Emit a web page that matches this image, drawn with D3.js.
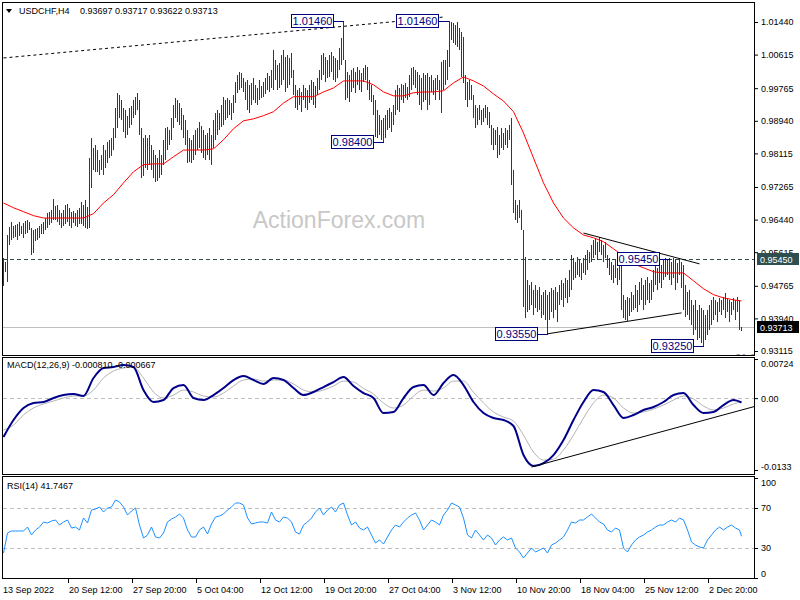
<!DOCTYPE html>
<html><head><meta charset="utf-8">
<script src="https://cdn.jsdelivr.net/npm/d3@7"></script>
<style>
body{margin:0;background:#fff}
svg{display:block}
text{font-family:"Liberation Sans",Arial,sans-serif}
</style>
</head><body>
<svg id="c" width="800" height="600"></svg>
<script>
// ---------------- DATA ----------------
const TITLE_SYMBOL = "USDCHF,H4";
const TITLE_PRICES = "0.93697 0.93717 0.93622 0.93713";
const MACD_TITLE = "MACD(12,26,9) -0.000810 -0.000667";
const RSI_TITLE = "RSI(14) 41.7467";
const WATERMARK = "ActionForex.com";

// bar highs / lows in 1/10000 units (H4 bars from 13 Sep 2022 04:00)
const HIGH = [
9547,9537,9605,9626,9638,9628,9631,9633,9638,9628,
9636,9641,9643,9638,9623,9618,9621,9623,9628,9633,
9638,9648,9661,9664,9669,9697,9679,9681,9669,9661,
9669,9681,9684,9674,9664,9666,9661,9669,9674,9689,
9681,9694,9676,9800,9851,9826,9833,9820,9795,9808,
9833,9820,9841,9846,9851,9876,9927,9965,9960,9947,
9927,9922,9907,9927,9932,9947,9955,9965,9947,9876,
9851,9858,9851,9858,9833,9820,9808,9800,9820,9808,
9846,9876,9879,9871,9901,9934,9952,9947,9939,9927,
9909,9896,9871,9851,9846,9858,9871,9876,9891,9881,
9871,9858,9863,9876,9858,9896,9914,9922,9914,9934,
9955,9947,9952,9947,9939,9960,9993,10010,10018,10015,
10003,9993,9998,9985,9990,10003,9985,9977,9998,9982,
9993,10003,10015,10008,10023,10074,10048,10036,10041,10061,
10074,10056,10061,10053,10066,10023,9985,9972,9977,9967,
9985,9977,9972,9985,9998,9993,9982,10003,10023,10061,
10066,10056,10048,10061,10068,10058,10053,10048,10079,10104,
10146,10048,10018,10010,10023,10028,10018,10030,10023,10015,
10028,10036,10030,9998,9985,9960,9947,9922,9909,9896,
9901,9909,9922,9927,9917,9934,9972,9985,9977,9987,
9985,9990,9980,10010,10028,10030,10023,10018,10010,10003,
10015,10010,10015,10005,10010,9998,10003,10010,9998,10043,
10048,10048,10074,10146,10144,10142,10137,10144,10129,10119,
10106,10010,9993,9998,9985,9960,9934,9927,9934,9922,
9927,9934,9929,9917,9884,9876,9871,9879,9858,9876,
9863,9876,9871,9884,9901,9770,9694,9681,9694,9669,
9618,9550,9492,9479,9487,9466,9479,9466,9474,9454,
9461,9466,9454,9461,9471,9466,9474,9461,9479,9492,
9484,9497,9492,9517,9555,9547,9537,9550,9542,9535,
9547,9555,9568,9562,9580,9593,9598,9588,9600,9593,
9580,9588,9555,9547,9537,9530,9542,9522,9530,9537,
9454,9441,9449,9446,9461,9454,9479,9466,9487,9497,
9479,9492,9499,9484,9492,9517,9530,9522,9537,9530,
9542,9547,9542,9547,9537,9547,9542,9535,9547,9537,
9530,9479,9461,9466,9441,9428,9441,9416,9428,9421,
9416,9403,9416,9428,9441,9449,9441,9436,9446,9441,
9449,9459,9446,9441,9436,9446,9441,9449,9441,9372
];
const LOW = [
9476,9512,9487,9580,9593,9598,9600,9593,9603,9608,
9598,9608,9611,9618,9555,9560,9590,9593,9598,9608,
9608,9618,9623,9631,9636,9643,9643,9638,9631,9623,
9628,9633,9638,9628,9623,9636,9628,9626,9633,9633,
9628,9623,9621,9623,9724,9770,9765,9765,9757,9770,
9757,9775,9788,9800,9805,9820,9851,9876,9901,9896,
9866,9851,9858,9876,9884,9901,9909,9922,9858,9750,
9755,9775,9770,9783,9770,9750,9740,9742,9750,9757,
9783,9795,9820,9833,9846,9876,9901,9891,9884,9871,
9851,9833,9788,9790,9788,9795,9808,9820,9826,9813,
9800,9795,9808,9795,9783,9826,9846,9858,9871,9879,
9884,9896,9901,9909,9896,9914,9939,9965,9972,9977,
9967,9947,9922,9914,9934,9947,9939,9934,9947,9952,
9955,9962,9972,9967,9977,9972,9998,9972,9977,9985,
9998,9967,9977,9985,10003,9960,9927,9922,9934,9917,
9947,9927,9922,9939,9947,9934,9927,9960,9972,9998,
10010,9993,10003,10005,10018,9998,9993,10003,10023,10036,
10048,9947,9952,9942,9967,9977,9965,9985,9972,9967,
9993,9998,9972,9947,9942,9909,9853,9851,9858,9846,
9840,9851,9871,9876,9866,9884,9909,9922,9917,9947,
9939,9952,9947,9955,9972,9985,9977,9960,9934,9922,
9942,9947,9922,9934,9967,9960,9947,9972,9947,9914,
9972,9985,9998,10030,10099,10091,10086,10081,10074,10005,
9990,9947,9929,9947,9947,9901,9876,9884,9896,9884,
9891,9901,9884,9876,9833,9820,9833,9800,9808,9826,
9820,9833,9826,9846,9732,9661,9643,9636,9648,9618,
9423,9395,9411,9416,9428,9403,9421,9411,9416,9395,
9403,9390,9355,9390,9411,9395,9416,9385,9428,9441,
9423,9446,9433,9449,9466,9492,9497,9504,9499,9492,
9509,9504,9517,9535,9537,9547,9555,9542,9562,9555,
9537,9547,9522,9504,9492,9484,9497,9479,9492,9416,
9395,9390,9388,9401,9411,9416,9421,9411,9428,9441,
9416,9428,9441,9433,9441,9461,9479,9466,9484,9471,
9492,9499,9504,9492,9479,9497,9466,9484,9504,9471,
9416,9398,9403,9390,9378,9352,9365,9340,9345,9332,
9325,9340,9352,9365,9378,9390,9403,9385,9411,9403,
9416,9395,9411,9385,9403,9416,9390,9411,9365,9362
];

// moving average and MACD samples, one every 5 bars (last one = last bar)
const SAMPLE_STEP = 5;
const MA = [
9686,9674,9664,9654,9648,9648,9648,9648,9648,9659,
9686,9707,9737,9765,9783,9785,9785,9803,9820,9820,
9820,9823,9846,9874,9894,9899,9907,9917,9939,9955,
9955,9955,9967,9977,9995,9995,9995,9985,9967,9957,
9957,9965,9967,9967,9970,9990,10005,9995,9982,9962,
9944,9917,9863,9800,9737,9686,9648,9623,9605,9598,
9588,9570,9552,9532,9522,9512,9509,9509,9509,9489,
9469,9454,9446,9441,9438
];
const MACD_MAIN = [
-0.0072,-0.00405,-0.00183,-0.00091,-0.00072,0.00002,0.00057,0.00076,0.00039,0.00372,
0.00557,0.00575,0.00612,0.00575,0.0015,-0.00072,-0.00035,0.00187,0.00242,0.00002,
-0.00035,0.00057,0.00187,0.00335,0.00409,0.00335,0.00261,0.00372,0.00335,0.00187,
0.00057,0.00113,0.00205,0.00298,0.0039,0.00224,0.00094,0.00002,-0.00276,-0.00257,
0.00002,0.00205,0.00242,0.00057,0.00279,0.00427,0.00242,-0.00072,-0.00276,-0.00368,
-0.00405,-0.00516,-0.01053,-0.01257,-0.01202,-0.01053,-0.00775,-0.00405,-0.00072,0.0015,
0.00113,-0.00128,-0.00368,-0.00313,-0.0022,-0.00165,-0.00072,0.00057,0.00094,-0.00128,
-0.00276,-0.00257,-0.00128,-0.00035,-0.00081
];
const MACD_SIGNAL = [
-0.0059,-0.00498,-0.00313,-0.00183,-0.00109,-0.00054,0.00002,0.00039,0.00039,0.0015,
0.00372,0.00501,0.00557,0.00575,0.00372,0.00113,0.00002,0.00057,0.0015,0.00113,
0.00039,0.0002,0.00094,0.00224,0.00335,0.00353,0.00316,0.00335,0.00335,0.00261,
0.0015,0.00113,0.0015,0.00224,0.00316,0.00298,0.0018,0.00076,-0.00091,-0.00183,
-0.00128,0.00039,0.0015,0.00131,0.00187,0.00316,0.00316,0.0011,-0.00091,-0.00257,
-0.0035,-0.00424,-0.00683,-0.00997,-0.01146,-0.01128,-0.0096,-0.00683,-0.00368,-0.00091,
0.00057,0.00002,-0.00183,-0.00276,-0.00257,-0.00202,-0.00128,-0.00035,0.00039,-0.00017,
-0.00146,-0.0022,-0.00183,-0.00109,-0.00067
];
// RSI samples, one every 2 bars (last one = last bar)
const RSI_STEP = 2;
const RSI = [
25,45,47,47,47,47,51,43,48,51,
56,55,57,58,53,56,58,50,51,48,
60,55,68,69,71,66,70,71,78,76,
71,63,67,70,53,40,43,51,41,40,
45,56,59,61,64,60,48,41,41,48,
51,44,54,61,62,64,68,71,75,75,
73,60,54,55,56,56,55,66,58,56,
61,60,56,46,44,
53,56,60,66,70,63,68,71,66,73,
75,63,53,56,50,48,51,43,35,38,
34,41,48,53,51,56,60,63,65,58,
48,53,58,56,53,63,68,75,73,71,
60,43,40,48,43,38,43,40,33,38,
41,38,40,30,26,20,25,30,26,28,
30,25,33,35,38,41,48,56,55,58,
58,61,64,60,56,54,48,46,50,48,
30,26,33,38,41,43,46,48,51,53,
53,56,58,56,60,58,48,36,33,31,
30,38,43,48,51,48,51,53,50,48,
41.7467
];

const PRICE_TICKS = [1.01440,1.00615,0.99765,0.98940,0.98115,0.97265,0.96440,0.95615,0.94765,0.93940,0.93115];
const MACD_TICKS = [0.00724, 0, -0.0133];
const MACD_TICK_TEXT = ["0.00724","0.00","-0.0133"];
const RSI_TICKS = [100, 70, 30, 0];
const RSI_LEVELS = [70, 30];

const X_LABELS = ["13 Sep 2022","20 Sep 12:00","27 Sep 20:00","5 Oct 04:00","12 Oct 12:00","19 Oct 20:00","27 Oct 04:00","3 Nov 12:00","10 Nov 20:00","18 Nov 04:00","25 Nov 12:00","2 Dec 20:00"];
const X_LABEL_BARS = [0,32,64,96,128,160,192,224,256,288,320,352];

const H_LEVEL = 0.95450;
const LAST_PRICE = 0.93713;

// annotation labels: [bar index, price, text]
const PRICE_BOXES = [
  [170, 1.01460, "1.01460"],
  [223, 1.01460, "1.01460"],
  [190, 0.98400, "0.98400"],
  [333, 0.95450, "0.95450"],
  [272, 0.93550, "0.93550"],
  [350, 0.93250, "0.93250"]
];
// trend lines: [[bar, price],[bar, price]]
const TREND_DASHED = [[0, 1.0053],[221, 1.0157]];
const TREND_UPPER = [[290, 0.9610],[348, 0.9532]];
const TREND_LOWER = [[272, 0.9355],[339, 0.9408]];
const MACD_TREND = [[264, -0.01275],[376, -0.0015]];

// ---------------- DRAW ----------------
const PIP = 10000;
const N = HIGH.length;
const svg = d3.select("#c");
const FONT = 9;

const x = d3.scaleLinear().domain([0, N - 1]).range([3.5, 741.5]);
const py = d3.scaleLinear().domain([0.93115, 1.01440]).range([351, 22]);
const my = d3.scaleLinear().domain([-0.0133, 0.00724]).range([470, 359]);
const ry = d3.scaleLinear().domain([0, 100]).range([578, 478]);
const sx = k => x(Math.min(k * SAMPLE_STEP, N - 1));
const rx = k => x(Math.min(k * RSI_STEP, N - 1));

const L = 3, R = 754;
const panels = {main:[3,355], macd:[358,474], rsi:[477,578]};
const defs = svg.append("defs");
Object.entries(panels).forEach(([k,[t,b]]) => {
  defs.append("clipPath").attr("id","clip-"+k).append("rect")
    .attr("x",L).attr("y",t).attr("width",R-L).attr("height",b-t);
});

// ---- main panel
const gm = svg.append("g").attr("clip-path","url(#clip-main)");

gm.append("text").attr("x",339).attr("y",228).attr("text-anchor","middle")
  .attr("font-size",23).attr("fill","#c8c8c8").text(WATERMARK);

gm.append("line").attr("x1",L).attr("x2",R).attr("y1",Math.round(py(LAST_PRICE))+0.5).attr("y2",Math.round(py(LAST_PRICE))+0.5)
  .attr("stroke","#c0c0c0");
gm.append("line").attr("x1",L).attr("x2",R).attr("y1",Math.round(py(H_LEVEL))+0.5).attr("y2",Math.round(py(H_LEVEL))+0.5)
  .attr("stroke","#2f4f4f").attr("stroke-dasharray","4,3");

gm.append("g").selectAll("line").data(d3.range(N)).join("line")
  .attr("x1", i => x(i)).attr("x2", i => x(i))
  .attr("y1", i => Math.round(py(HIGH[i] / PIP)))
  .attr("y2", i => Math.max(Math.round(py(LOW[i] / PIP)), Math.round(py(HIGH[i] / PIP)) + 1))
  .attr("stroke", "#173f5f").attr("stroke-width", 1).attr("shape-rendering","crispEdges");

gm.append("path").datum(MA)
  .attr("d", d3.line().x((d,k) => sx(k)).y(d => py(d / PIP)))
  .attr("fill","none").attr("stroke","#ff0000").attr("stroke-width",1);

const tl = (g, pts, yS, dash) => g.append("line")
  .attr("x1", x(pts[0][0])).attr("y1", yS(pts[0][1]))
  .attr("x2", x(pts[1][0])).attr("y2", yS(pts[1][1]))
  .attr("stroke","#000").attr("stroke-width",1).attr("stroke-dasharray", dash || null);
tl(gm, TREND_DASHED, py, "3,3");
tl(gm, TREND_UPPER, py);
tl(gm, TREND_LOWER, py);

PRICE_BOXES.forEach(([b, p, t]) => {
  const bx = Math.round(x(b)), by = Math.round(py(p));
  gm.append("line").attr("x1", bx - 10).attr("x2", bx).attr("y1", by + 0.5).attr("y2", by + 0.5)
    .attr("stroke","#000080");
  gm.append("rect").attr("x", bx - 52.5).attr("y", by - 6.5).attr("width", 42).attr("height", 13)
    .attr("fill","#fff").attr("stroke","#000080");
  gm.append("text").attr("x", bx - 31.5).attr("y", by + 4).attr("text-anchor","middle")
    .attr("font-size",11).attr("fill","#000080").text(t);
});

gm.append("text").attr("x",735).attr("y",362).attr("font-size",11).attr("fill","#808080").text("61.8");

// ---- MACD panel
const gd = svg.append("g").attr("clip-path","url(#clip-macd)");
gd.append("line").attr("x1",L).attr("x2",R).attr("y1",Math.round(my(0))+0.5).attr("y2",Math.round(my(0))+0.5)
  .attr("stroke","#c0c0c0").attr("stroke-dasharray","4,3");
gd.append("path").datum(MACD_SIGNAL)
  .attr("d", d3.line().x((d,k) => sx(k)).y(d => my(d)).curve(d3.curveMonotoneX))
  .attr("fill","none").attr("stroke","#b4b4b4").attr("stroke-width",1);
gd.append("path").datum(MACD_MAIN)
  .attr("d", d3.line().x((d,k) => sx(k)).y(d => my(d)).curve(d3.curveMonotoneX))
  .attr("fill","none").attr("stroke","#00008b").attr("stroke-width",2);
tl(gd, MACD_TREND, my);

// ---- RSI panel
const gr = svg.append("g").attr("clip-path","url(#clip-rsi)");
RSI_LEVELS.forEach(v => gr.append("line").attr("x1",L).attr("x2",R)
  .attr("y1",Math.round(ry(v))+0.5).attr("y2",Math.round(ry(v))+0.5)
  .attr("stroke","#c0c0c0").attr("stroke-dasharray","4,3"));
gr.append("path").datum(RSI)
  .attr("d", d3.line().x((d,k) => rx(k)).y(d => ry(d)))
  .attr("fill","none").attr("stroke","#1e90ff").attr("stroke-width",1);

// ---- frames
Object.values(panels).forEach(([t,b]) => svg.append("rect")
  .attr("x",L-0.5).attr("y",t-0.5).attr("width",R-L+1).attr("height",b-t+1)
  .attr("fill","none").attr("stroke","#000"));

// ---- titles
svg.append("path").attr("d","M6,9 L12,9 L9,13 Z").attr("fill","#000");
svg.append("text").attr("x",19).attr("y",14).attr("font-size",FONT).text(TITLE_SYMBOL);
svg.append("text").attr("x",80).attr("y",14).attr("font-size",FONT).text(TITLE_PRICES);
svg.append("text").attr("x",7).attr("y",368).attr("font-size",FONT).text(MACD_TITLE);
svg.append("text").attr("x",7).attr("y",489).attr("font-size",FONT).text(RSI_TITLE);

// ---- right axes
function styleAxis(g){
  g.select(".domain").remove();
  g.selectAll("text").attr("font-size",FONT).attr("font-family","Liberation Sans, Arial, sans-serif").attr("fill","#000");
  g.selectAll("line").attr("stroke","#000");
}
svg.append("g").attr("transform",`translate(${R+1},0)`)
  .call(d3.axisRight(py).tickValues(PRICE_TICKS).tickSize(3).tickFormat(d3.format(".5f")))
  .call(styleAxis);
svg.append("g").attr("transform",`translate(${R+1},0)`)
  .call(d3.axisRight(my).tickValues(MACD_TICKS).tickSize(3).tickFormat((d,i) => MACD_TICK_TEXT[i]))
  .call(styleAxis)
  .call(g => g.selectAll(".tick text").attr("dy",(d,i) => i===0 ? "0.85em" : i===2 ? "-0.1em" : "0.32em"));
svg.append("g").attr("transform",`translate(${R+1},0)`)
  .call(d3.axisRight(ry).tickValues(RSI_TICKS).tickSize(3))
  .call(styleAxis)
  .call(g => g.selectAll(".tick text").attr("dy",d => d===100 ? "0.85em" : d===0 ? "-0.2em" : "0.32em"));

// flag labels on price axis
[[H_LEVEL,"#2f4f4f"],[LAST_PRICE,"#000"]].forEach(([v,c]) => {
  const yy = Math.round(py(v));
  svg.append("rect").attr("x",R+3).attr("y",yy-6).attr("width",42).attr("height",12).attr("fill",c);
  svg.append("text").attr("x",R+6).attr("y",yy+3.5).attr("font-size",FONT).attr("fill","#fff").text(d3.format(".5f")(v));
});

// ---- x axis
const gx = svg.append("g");
X_LABEL_BARS.forEach((b,i) => {
  const xx = Math.round(x(b));
  if (i > 0) gx.append("line").attr("x1",xx+0.5).attr("x2",xx+0.5).attr("y1",578).attr("y2",583).attr("stroke","#000");
  gx.append("text").attr("x", i === 0 ? 3 : xx + 1).attr("y",593).attr("font-size",FONT).text(X_LABELS[i]);
});
</script>
</body></html>
